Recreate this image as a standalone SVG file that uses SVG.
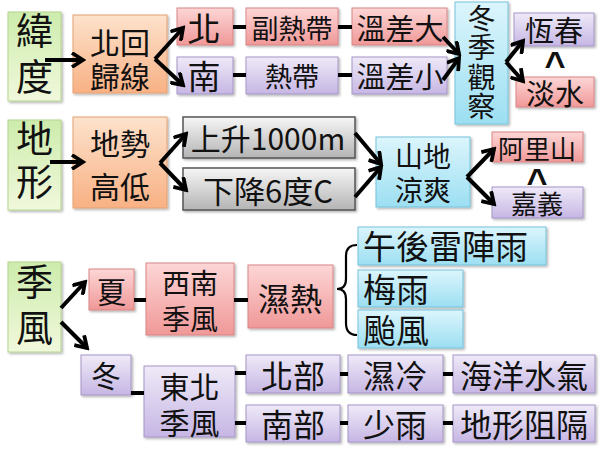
<svg xmlns="http://www.w3.org/2000/svg" width="600" height="450" viewBox="0 0 600 450">
<defs>
<linearGradient id="gG" x1="0" y1="0" x2="0" y2="1"><stop offset="0" stop-color="#cdecac"/><stop offset="1" stop-color="#f1f8dc"/></linearGradient>
<linearGradient id="gO" x1="0" y1="0" x2="0" y2="1"><stop offset="0" stop-color="#fde2cc"/><stop offset="1" stop-color="#f8b184"/></linearGradient>
<linearGradient id="gP" x1="0" y1="0" x2="0" y2="1"><stop offset="0" stop-color="#fdd6d6"/><stop offset="1" stop-color="#f09898"/></linearGradient>
<linearGradient id="gU" x1="0" y1="0" x2="0" y2="1"><stop offset="0" stop-color="#efeaf8"/><stop offset="1" stop-color="#c6b6e4"/></linearGradient>
<linearGradient id="gC" x1="0" y1="0" x2="0" y2="1"><stop offset="0" stop-color="#dcf5fc"/><stop offset="1" stop-color="#9cdff2"/></linearGradient>
<linearGradient id="gY" x1="0" y1="0" x2="0" y2="1"><stop offset="0" stop-color="#f6f6f6"/><stop offset="1" stop-color="#b4b4b4"/></linearGradient>
<filter id="sh" x="-10%" y="-10%" width="130%" height="130%"><feDropShadow dx="1.5" dy="1.5" stdDeviation="1" flood-color="#000" flood-opacity="0.3"/></filter>
<marker id="ah" viewBox="0 0 16 16" refX="13" refY="8" markerWidth="16" markerHeight="16" markerUnits="userSpaceOnUse" orient="auto"><path d="M2,1 L13,8 L2,15" fill="none" stroke="#000" stroke-width="3.8" stroke-linejoin="miter"/></marker>
</defs>
<style>
rect{filter:url(#sh);stroke-width:1}
.g{fill:url(#gG);stroke:#b5d48e}
.o{fill:url(#gO);stroke:#e4a173}
.p{fill:url(#gP);stroke:#d98585}
.u{fill:url(#gU);stroke:#a595c6}
.c{fill:url(#gC);stroke:#76c3dc}
.y{fill:url(#gY);stroke:#555;stroke-width:1.5}
text{font-family:"Noto Sans CJK TC","Noto Sans CJK SC",sans-serif;fill:#111;text-anchor:middle;dominant-baseline:central}
.l{text-anchor:start}
.v{writing-mode:vertical-rl}
.k{font-family:"Liberation Sans",Arial,sans-serif;font-size:36px;font-weight:bold}
.cn line,.cn path{stroke:#000;stroke-width:4;fill:none}
.cn .a{marker-end:url(#ah)}
</style>
<rect width="600" height="450" fill="#fff" style="filter:none"/>

<g id="n-weidu"><rect class="g" x="8" y="12" width="53" height="89"/><text class="v" x="34.5" y="58" font-size="37" letter-spacing="9">緯度</text></g>
<g id="n-beihuiguixian"><rect class="o" x="73" y="15" width="94" height="78"/><text font-size="30"><tspan x="120" y="41">北回</tspan><tspan x="120" y="75">歸線</tspan></text></g>
<g id="n-bei"><rect class="p" x="177" y="8" width="56" height="37"/><text x="204" y="27" font-size="33">北</text></g>
<g id="n-nan"><rect class="u" x="177" y="57" width="56" height="37"/><text x="204" y="75" font-size="33">南</text></g>
<g id="n-furedai"><rect class="p" x="246" y="8" width="92" height="37"/><text x="292" y="27" font-size="27">副熱帶</text></g>
<g id="n-redai"><rect class="u" x="246" y="57" width="92" height="37"/><text x="292" y="75" font-size="27">熱帶</text></g>
<g id="n-wenchada"><rect class="p" x="352" y="8" width="95" height="37"/><text x="400" y="27" font-size="29">溫差大</text></g>
<g id="n-wenchaxiao"><rect class="u" x="352" y="57" width="95" height="37"/><text x="400" y="75" font-size="29">溫差小</text></g>
<g id="n-dongjiguancha"><rect class="c" x="455" y="2" width="53" height="122"/><text class="v" x="481.5" y="63" font-size="28" letter-spacing="1.5">冬季觀察</text></g>
<g id="n-hengchun"><rect class="u" x="514" y="13" width="80" height="33"/><text x="554" y="29" font-size="29">恆春</text></g>
<g id="n-danshui"><rect class="p" x="516" y="77" width="78" height="30"/><text x="555" y="92" font-size="29">淡水</text></g>
<text class="k" x="555" y="64">^</text>

<g id="n-dixing"><rect class="g" x="8" y="120" width="53" height="90"/><text class="v" x="34.5" y="163.5" font-size="37" letter-spacing="6">地形</text></g>
<g id="n-dishigaodi"><rect class="o" x="73" y="117" width="94" height="91"/><text font-size="30"><tspan x="120" y="142">地勢</tspan><tspan x="120" y="185">高低</tspan></text></g>
<g id="n-shangsheng"><rect class="y" x="183" y="117" width="172" height="41"/><text x="268" y="137" font-size="30">上升1000m</text></g>
<g id="n-xiajiang"><rect class="y" x="183" y="168" width="172" height="42"/><text x="268" y="189" font-size="31">下降6度C</text></g>
<g id="n-shandiliangshuang"><rect class="c" x="376" y="137" width="94" height="70"/><text font-size="28"><tspan x="423" y="155">山地</tspan><tspan x="423" y="189">涼爽</tspan></text></g>
<g id="n-alishan"><rect class="p" x="492" y="132" width="91" height="30"/><text x="537" y="147" font-size="26">阿里山</text></g>
<g id="n-jiayi"><rect class="u" x="492" y="187" width="91" height="31"/><text x="537" y="202" font-size="26">嘉義</text></g>
<text class="k" x="537" y="181">^</text>

<g id="n-jifeng"><rect class="g" x="8" y="262" width="53" height="90"/><text class="v" x="34.5" y="309" font-size="37" letter-spacing="9">季風</text></g>
<g id="n-xia"><rect class="p" x="89" y="269" width="45" height="41"/><text x="111.5" y="290" font-size="30">夏</text></g>
<g id="n-xinanjifeng"><rect class="p" x="146" y="263" width="88" height="72"/><text font-size="28"><tspan x="190" y="282">西南</tspan><tspan x="190" y="318">季風</tspan></text></g>
<g id="n-shire"><rect class="p" x="248" y="265" width="85" height="63"/><text x="290" y="297" font-size="32">濕熱</text></g>
<g id="n-wuhouleizhenyu"><rect class="c" x="358" y="227" width="188" height="38"/><text class="l" x="363" y="245" font-size="33">午後雷陣雨</text></g>
<g id="n-meiyu"><rect class="c" x="358" y="270" width="105" height="37"/><text class="l" x="363" y="288" font-size="33">梅雨</text></g>
<g id="n-taifeng"><rect class="c" x="358" y="310" width="105" height="38"/><text class="l" x="363" y="329" font-size="33">颱風</text></g>

<g id="n-dong"><rect class="u" x="81" y="355" width="50" height="40"/><text x="106" y="374" font-size="30">冬</text></g>
<g id="n-dongbeijifeng"><rect class="u" x="144" y="366" width="91" height="71"/><text font-size="30"><tspan x="189.5" y="385">東北</tspan><tspan x="189.5" y="421">季風</tspan></text></g>
<g id="n-beibu"><rect class="u" x="246" y="355" width="94" height="38"/><text x="293" y="374" font-size="32">北部</text></g>
<g id="n-nanbu"><rect class="u" x="246" y="405" width="94" height="37"/><text x="293" y="423" font-size="32">南部</text></g>
<g id="n-shileng"><rect class="u" x="348" y="355" width="95" height="38"/><text x="395" y="374" font-size="32">濕冷</text></g>
<g id="n-haiyangshuiqi"><rect class="u" x="453" y="355" width="142" height="38"/><text x="524" y="374" font-size="32">海洋水氣</text></g>
<g id="n-shaoyu"><rect class="u" x="348" y="405" width="95" height="37"/><text x="395" y="423" font-size="32">少雨</text></g>
<g id="n-dixingzuge"><rect class="u" x="453" y="405" width="142" height="37"/><text x="524" y="423" font-size="32">地形阻隔</text></g>

<g class="cn">
<line class="a" x1="45" y1="60" x2="83" y2="60"/>
<line class="a" x1="155" y1="59" x2="183" y2="28"/>
<line class="a" x1="155" y1="59" x2="183" y2="85"/>
<line x1="233" y1="27" x2="246" y2="27"/>
<line x1="233" y1="75" x2="246" y2="75"/>
<line x1="338" y1="27" x2="352" y2="27"/>
<line x1="338" y1="75" x2="352" y2="75"/>
<line class="a" x1="443" y1="37" x2="459" y2="54"/>
<line class="a" x1="443" y1="80" x2="459" y2="58"/>
<line class="a" x1="506" y1="62" x2="523" y2="41"/>
<line class="a" x1="506" y1="62" x2="523" y2="81"/>
<line class="a" x1="50" y1="162" x2="83" y2="162"/>
<line class="a" x1="160" y1="163" x2="186" y2="134"/>
<line class="a" x1="160" y1="163" x2="186" y2="190"/>
<line class="a" x1="355" y1="133" x2="381" y2="164"/>
<line class="a" x1="355" y1="197" x2="381" y2="167"/>
<line class="a" x1="467" y1="177" x2="494" y2="149"/>
<line class="a" x1="467" y1="177" x2="494" y2="204"/>
<line class="a" x1="61" y1="308" x2="85" y2="282"/>
<line class="a" x1="61" y1="322" x2="87" y2="348"/>
<line x1="134" y1="300" x2="146" y2="300"/>
<line x1="234" y1="300" x2="248" y2="300"/>
<line x1="131" y1="393" x2="144" y2="393"/>
<line x1="235" y1="373" x2="246" y2="373"/>
<line x1="235" y1="423" x2="246" y2="423"/>
<line x1="340" y1="374" x2="348" y2="374"/>
<line x1="443" y1="374" x2="453" y2="374"/>
<line x1="340" y1="423" x2="348" y2="423"/>
<line x1="443" y1="423" x2="453" y2="423"/>
<path d="M357,245 Q346,245 346,256 L346,279 Q346,289 337,289 Q346,289 346,299 L346,323 Q346,335 357,335" style="stroke-width:2.2"/>
</g>
</svg>
